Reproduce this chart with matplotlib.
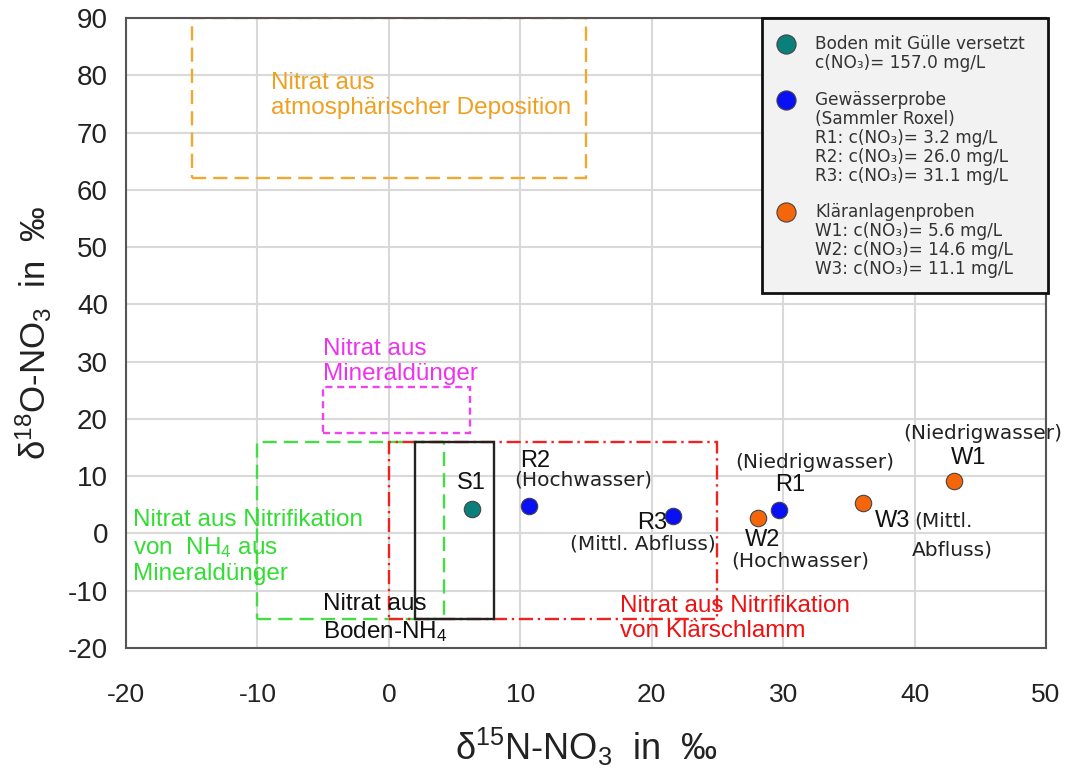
import matplotlib
matplotlib.use("Agg")
import matplotlib.pyplot as plt
from matplotlib.patches import Rectangle

plt.rcParams['font.family'] = ['Liberation Sans', 'DejaVu Sans']
plt.rcParams['mathtext.fontset'] = 'custom'
plt.rcParams['mathtext.rm'] = 'Liberation Sans'
plt.rcParams['mathtext.it'] = 'Liberation Sans:italic'
plt.rcParams['mathtext.bf'] = 'Liberation Sans:bold'
plt.rcParams['axes.unicode_minus'] = False

# ---- data ----
sample_names = ["S1", "R1", "R2", "R3", "W1", "W2", "W3"]
d15N = [6.3, 29.7, 10.7, 21.6, 43.0, 28.1, 36.1]
d18O = [4.3, 4.1, 4.8, 3.1, 9.1, 2.7, 5.3]
sample_group = ["soil", "water", "water", "water", "wwtp", "wwtp", "wwtp"]
group_colors = {"soil": "#0b7f7a", "water": "#0a10f5", "wwtp": "#f5660a"}

# source boxes: (x0, x1, y0, y1)
box_names = ["atmo", "mineral", "nitr_mineral", "klaer", "boden"]
box_x0 = [-15, -5, -10, 0, 2]
box_x1 = [15, 6.2, 4.2, 25, 8]
box_y0 = [62, 17.5, -15, -15, -15]
box_y1 = [90, 25.5, 16, 16, 16]
box_colors = ["#f0a830", "#ee44ee", "#44dd44", "#ee2222", "#222222"]
box_styles = [(0, (6, 3)), (0, (3, 2)), (0, (6, 3)), (0, (6, 2, 1, 2)), "-"]

xticks = [-20, -10, 0, 10, 20, 30, 40, 50]
yticks = [-20, -10, 0, 10, 20, 30, 40, 50, 60, 70, 80, 90]

fig = plt.figure(figsize=(10.76, 7.71), dpi=100)
ax = fig.add_axes([126/1076, 1-648/771, 920/1076, 630/771])
ax.set_xlim(-20, 50)
ax.set_ylim(-20, 90)
ax.set_xticks(xticks)
ax.set_yticks(yticks)
ax.grid(True, color="#d9d9d9", lw=1.5)
ax.set_axisbelow(True)
ax.tick_params(length=0, labelcolor="#222222")
ax.tick_params(axis='y', pad=13, labelsize=20)
ax.tick_params(axis='x', pad=25, labelsize=19)
for s in ax.spines.values():
    s.set_color("#555555")
    s.set_linewidth(1.5)

for x0, x1, y0, y1, c, ls in zip(box_x0, box_x1, box_y0, box_y1, box_colors, box_styles):
    ax.add_patch(Rectangle((x0, y0), x1 - x0, y1 - y0, fill=False, edgecolor=c,
                           linestyle=ls, lw=1.7, zorder=2))

for g in ["soil", "water", "wwtp"]:
    xs = [x for x, gg in zip(d15N, sample_group) if gg == g]
    ys = [y for y, gg in zip(d18O, sample_group) if gg == g]
    ax.scatter(xs, ys, s=140, color=group_colors[g], edgecolor="#444444", lw=0.8, zorder=4)

# region annotations
ann = dict(fontsize=17.5, va="center", ha="left", linespacing=1.2)
ax.text(-9.0, 76.5, "Nitrat aus\natmosphärischer Deposition", color="#f0a020", **ann)
ax.text(-5.0, 30.0, "Nitrat aus\nMineraldünger", color="#ee33ee", **ann)
ax.text(-19.5, -2.4, "Nitrat aus Nitrifikation\nvon  NH$_4$ aus\nMineraldünger", color="#33dd33", **ann)
ax.text(-5.0, -14.9, "Nitrat aus\nBoden-NH$_4$", color="#111111", **ann)
ax.text(17.6, -14.9, "Nitrat aus Nitrifikation\nvon Klärschlamm", color="#ee1111", **ann)

# point labels
lab_big = dict(fontsize=17, color="#111111", family=["Liberation Sans", "DejaVu Sans"])
lab_small = dict(fontsize=14.5, color="#222222", family=["DejaVu Sans"])
ax.text(6.3, 8.8, "S1", ha="center", va="center", **lab_big)
ax.text(11.1, 12.6, "R2", ha="center", va="center", **lab_big)
ax.text(14.8, 9.3, "(Hochwasser)", ha="center", va="center", **lab_small)
ax.text(21.2, 1.9, "R3", ha="right", va="center", **lab_big)
ax.text(19.3, -1.8, "(Mittl. Abfluss)", ha="center", va="center", **lab_small)
ax.text(32.4, 12.4, "(Niedrigwasser)", ha="center", va="center", **lab_small)
ax.text(30.5, 8.5, "R1", ha="center", va="center", **lab_big)
ax.text(28.4, -1.2, "W2", ha="center", va="center", **lab_big)
ax.text(31.3, -4.8, "(Hochwasser)", ha="center", va="center", **lab_small)
ax.text(38.3, 2.1, "W3", ha="center", va="center", **lab_big)
ax.text(42.2, 2.1, "(Mittl.", ha="center", va="center", **lab_small)
ax.text(42.9, -2.9, "Abfluss)", ha="center", va="center", **lab_small)
ax.text(45.2, 17.4, "(Niedrigwasser)", ha="center", va="center", **lab_small)
ax.text(44.1, 13.2, "W1", ha="center", va="center", **lab_big)

ax.set_xlabel("δ$^{15}$N-NO$_3$  in  ‰", fontsize=26, labelpad=14, color="#222222")
ax.set_ylabel("δ$^{18}$O-NO$_3$  in  ‰", fontsize=25, labelpad=10, color="#222222")

# legend box (manual)
def px(xp, yp):
    return ((xp - 126) / 920, (648 - yp) / 630)

x0, y0 = px(762, 293)
x1, y1 = px(1048, 18)
ax.add_patch(Rectangle((x0, y0), x1 - x0, y1 - y0, transform=ax.transAxes,
                       facecolor="#f2f2f2", edgecolor="#111111", lw=2, zorder=6,
                       clip_on=False))
leg_font = dict(fontsize=12.2, color="#333333", family=["DejaVu Sans"], zorder=7,
                transform=ax.transAxes, va="center", ha="left")
entries = [
    ("soil", 44, ["Boden mit Gülle versetzt", "c(NO₃)= 157.0 mg/L"]),
    ("water", 100, ["Gewässerprobe", "(Sammler Roxel)", "R1: c(NO₃)= 3.2 mg/L",
                    "R2: c(NO₃)= 26.0 mg/L", "R3: c(NO₃)= 31.1 mg/L"]),
    ("wwtp", 212, ["Kläranlagenproben", "W1: c(NO₃)= 5.6 mg/L",
                   "W2: c(NO₃)= 14.6 mg/L", "W3: c(NO₃)= 11.1 mg/L"]),
]
for g, ytop, lines in entries:
    mx, my = px(786, ytop)
    ax.scatter([mx], [my], s=190, color=group_colors[g], edgecolor="#444444", lw=0.8,
               transform=ax.transAxes, zorder=7, clip_on=False)
    for i, line in enumerate(lines):
        tx, ty = px(815, ytop + i * 19.0)
        ax.text(tx, ty, line, **leg_font)

fig.savefig("out.png", dpi=100)
